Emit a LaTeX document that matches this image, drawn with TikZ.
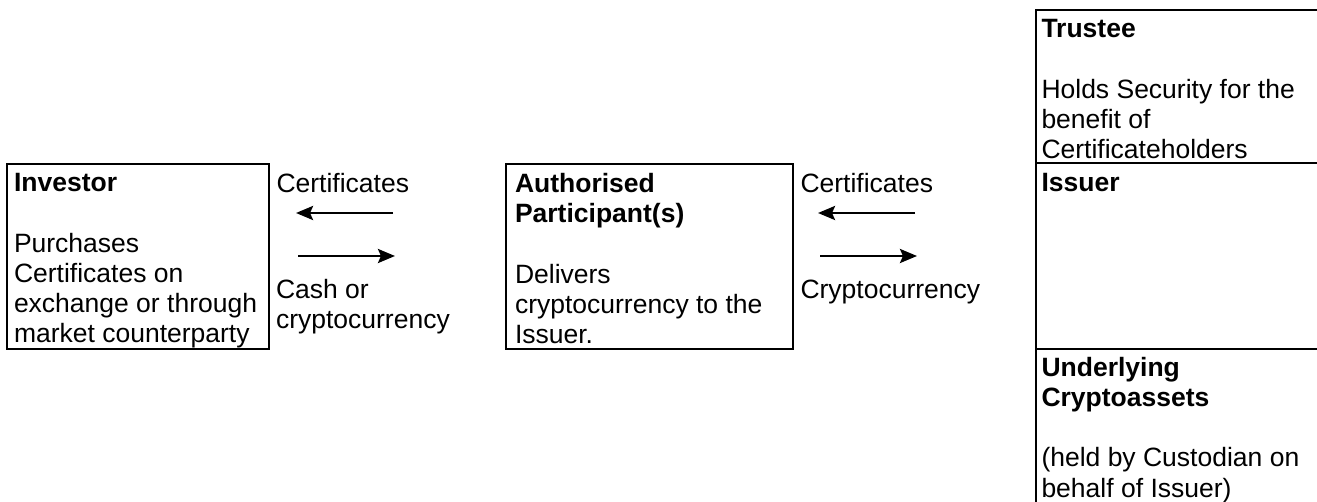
\documentclass[tikz,border=0pt]{standalone}
\usepackage{fontspec}
\setmainfont{Liberation Sans}
\usetikzlibrary{arrows.meta}
\tikzset{
  box/.style={draw=black, line width=2.3pt, anchor=north west, inner sep=0pt, outer sep=0pt},
  txt/.style={anchor=north west, inner sep=0pt, outer sep=0pt, align=left,
              font=\fontsize{26.5}{30.2}\selectfont},
  flow/.style={line width=2.7pt, -{Stealth[length=17pt,width=14pt,inset=3pt]}}
}
\begin{document}
\begin{tikzpicture}[x=1pt,y=-1pt]
\useasboundingbox (0,0) rectangle (1317,502);
\clip (0,0) rectangle (1317,502);
% boxes
\node[box, minimum width=262pt, minimum height=185pt] (investor) at (7,164) {};
\node[box, minimum width=287pt, minimum height=185pt] (ap) at (506,164) {};
\node[box, minimum width=300pt, minimum height=153pt] (trustee) at (1036,10) {};
\node[box, minimum width=300pt, minimum height=186pt] (issuer) at (1036,163) {};
\node[box, minimum width=300pt, minimum height=180pt] (underlying) at (1036,349) {};
% texts
\node[txt] (investortxt) at (14,173.5) {\textbf{Investor}\\[30.2pt]Purchases\\Certificates on\\exchange or through\\market counterparty};
\node[txt] (certL) at (276.5,173.5) {Certificates};
\node[txt] (cashL) at (276,279.5) {Cash or\\cryptocurrency};
\node[txt] (aptxt) at (515,173.5) {\textbf{Authorised}\\\textbf{Participant(s)}\\[30.2pt]Delivers\\cryptocurrency to the\\Issuer.};
\node[txt] (certR) at (800.5,173.5) {Certificates};
\node[txt] (cryptoR) at (800.5,279.5) {Cryptocurrency};
\node[txt] (trusteetxt) at (1041.5,19.5) {\textbf{Trustee}\\[30.2pt]Holds Security for the\\benefit of\\Certificateholders};
\node[txt] (issuertxt) at (1041.5,173.5) {\textbf{Issuer}};
\node[txt] (underlyingtxt) at (1041.5,357) {\textbf{Underlying}\\\textbf{Cryptoassets}\\[30.2pt](held by Custodian on\\behalf of Issuer)};
% arrows
\coordinate (a1s) at (393,213); \coordinate (a1e) at (296,213);
\coordinate (a2s) at (298,256); \coordinate (a2e) at (395,256);
\coordinate (a3s) at (915,213); \coordinate (a3e) at (818,213);
\coordinate (a4s) at (820,256); \coordinate (a4e) at (917,256);
\draw[flow] (a1s) -- (a1e);
\draw[flow] (a2s) -- (a2e);
\draw[flow] (a3s) -- (a3e);
\draw[flow] (a4s) -- (a4e);
\end{tikzpicture}
\end{document}
